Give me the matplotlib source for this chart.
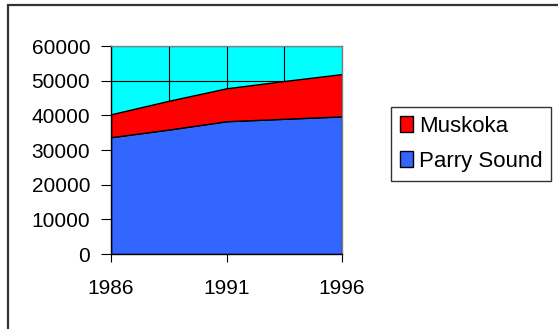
import matplotlib
matplotlib.use("Agg")
import matplotlib.pyplot as plt
from matplotlib.patches import Rectangle

# population by census point (five points, labelled every other one)
years = ["1986", "", "1991", "", "1996"]
parry_sound = [33700, 35900, 38300, 39000, 39700]
muskoka = [6600, 8300, 9500, 10900, 12200]

plt.rcParams['font.family'] = ['Liberation Sans', 'DejaVu Sans']

fig = plt.figure(figsize=(5.58, 3.29), dpi=100)
fig.patch.set_facecolor('white')

# outer chart frame (left and top edges show, the rest runs off the canvas)
fig.add_artist(Rectangle((8 / 558, -0.05), 1.0, 1 - 5 / 329 + 0.05,
                         transform=fig.transFigure, fill=False,
                         edgecolor='#333333', linewidth=1.6))

ax = fig.add_axes([111 / 558, 1 - 254 / 329, 231 / 558, 208 / 329])
ax.set_facecolor('#00FFFF')

x = list(range(len(years)))
ax.stackplot(x, parry_sound, muskoka,
             colors=['#3366FF', '#FF0000'],
             edgecolor='black', linewidth=1.0,
             labels=['Parry Sound', 'Muskoka'], zorder=2)

ax.set_xlim(0, 4)
ax.set_ylim(0, 60000)
ax.set_yticks(range(0, 60001, 10000))
ax.set_xticks([0, 2, 4])
ax.set_xticklabels([years[0], years[2], years[4]])

# gridlines at every category and every y tick, behind the areas
for xi in x:
    ax.axvline(xi, color='black', linewidth=0.8, zorder=1)
ax.grid(True, which='major', axis='y', color='black', linewidth=0.8, zorder=1)
ax.set_axisbelow(True)

for side in ['top', 'right']:
    ax.spines[side].set_color('#808080')
for side in ['left', 'bottom']:
    ax.spines[side].set_color('black')
for s in ax.spines.values():
    s.set_linewidth(1.0)
    s.set_zorder(3)

ax.tick_params(axis='y', direction='out', length=7, labelsize=15, pad=8)
ax.tick_params(axis='x', direction='out', length=6, labelsize=15, pad=12)

handles, labels = ax.get_legend_handles_labels()
leg = fig.legend(handles[::-1], labels[::-1],
                 loc='upper left', bbox_to_anchor=(391 / 558, 1 - 107 / 329),
                 fontsize=16, frameon=True, fancybox=False,
                 edgecolor='black', handlelength=0.6, handleheight=0.75,
                 handletextpad=0.25, labelspacing=0.63, borderpad=0.4,
                 borderaxespad=0)
leg.get_frame().set_linewidth(1.0)

fig.savefig('out.png', dpi=100)
